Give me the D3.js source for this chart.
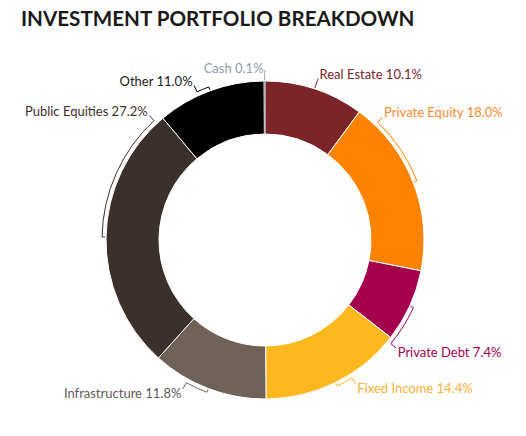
<!DOCTYPE html>
<html lang="en">
<head>
    <meta charset="UTF-8">
    <title>Investment Portfolio Breakdown</title>
    <script src="https://d3js.org/d3.v7.min.js"></script>
    <style>
        body { margin: 0; background: #fff; }
        svg text { font-family: "Segoe UI", "Lato", "Open Sans", sans-serif; }
    </style>
</head>
<body>
    <div id="chart"></div>

    <script>
        const categories = ["Real Estate", "Private Equity", "Private Debt", "Fixed Income",
            "Infrastructure", "Public Equities", "Other", "Cash"];
        const shares = [10.1, 18.0, 7.4, 14.4, 11.8, 27.2, 11.0, 0.1];
        const sliceColors = ["#7b2529", "#ff8300", "#a5004d", "#fdb71f",
            "#6e6259", "#3c302d", "#000000", "#a9b4c0"];
        const labelColors = ["#7b2529", "#ff8a30", "#a5004d", "#fdb03a",
            "#5f5a5e", "#3c302d", "#1a1a1a", "#8f9cab"];
        // how far (degrees) each label is pushed off its slice middle to avoid collisions
        const labelShift = [0, -25, 15, -6, 8, 46, -4.5, 0.2];

        const width = 526;
        const height = 436;
        const cx = 265, cy = 240;
        const outerR = 159, innerR = 106;
        const bracketR = 163, labelR = 170;

        const svg = d3.select("#chart")
            .append("svg")
            .attr("width", width)
            .attr("height", height);

        svg.append("text")
            .attr("x", 21)
            .attr("y", 26)
            .attr("font-size", 20.6)
            .attr("font-weight", 700)
            .attr("fill", "#1a1a1a")
            .style("font-family", "'Lato', 'Open Sans', sans-serif")
            .text("INVESTMENT PORTFOLIO BREAKDOWN");

        const data = categories.map((c, i) => ({ name: c, value: shares[i], i }));

        const pie = d3.pie().sort(null).value(d => d.value);
        const arc = d3.arc().innerRadius(innerR).outerRadius(outerR);
        const arcs = pie(data);

        const g = svg.append("g").attr("transform", `translate(${cx}, ${cy})`);

        g.selectAll("path.slice")
            .data(arcs)
            .join("path")
            .attr("class", "slice")
            .attr("d", arc)
            .attr("fill", d => sliceColors[d.data.i])
            .attr("stroke", "#fff")
            .attr("stroke-width", d => d.data.i === 7 ? 0 : 1);

        const polar = (r, a) => [r * Math.sin(a), -r * Math.cos(a)];
        const rad = deg => deg * Math.PI / 180;

        arcs.forEach(d => {
            const i = d.data.i;
            const mid = (d.startAngle + d.endAngle) / 2;
            const la = mid + rad(labelShift[i]);

            const p = d3.path();
            const s0 = polar(outerR + 1, mid);
            p.moveTo(s0[0], s0[1]);
            const s1 = polar(bracketR, mid);
            p.lineTo(s1[0], s1[1]);
            if (Math.abs(la - mid) > 0.01) {
                const a0 = mid - Math.PI / 2, a1 = la - Math.PI / 2;
                p.arc(0, 0, bracketR, a0, a1, la < mid);
            }
            const e = polar(labelR, la);
            p.lineTo(e[0], e[1]);

            g.append("path")
                .attr("d", p.toString())
                .attr("fill", "none")
                .attr("stroke", i === 7 ? "#9aa6b4" : sliceColors[i])
                .attr("stroke-width", 1);

            const rightSide = Math.sin(la) > 0.001;
            const upper = Math.cos(la) > 0;
            g.append("text")
                .attr("x", e[0] + (rightSide ? 1.5 : -1.5))
                .attr("y", e[1] + (i === 7 ? 3 : upper ? 0 : 9))
                .attr("text-anchor", rightSide ? "start" : "end")
                .attr("font-size", 13)
                .attr("fill", labelColors[i])
                .text(`${d.data.name} ${d.data.value.toFixed(1)}%`);
        });
    </script>
</body>
</html>
